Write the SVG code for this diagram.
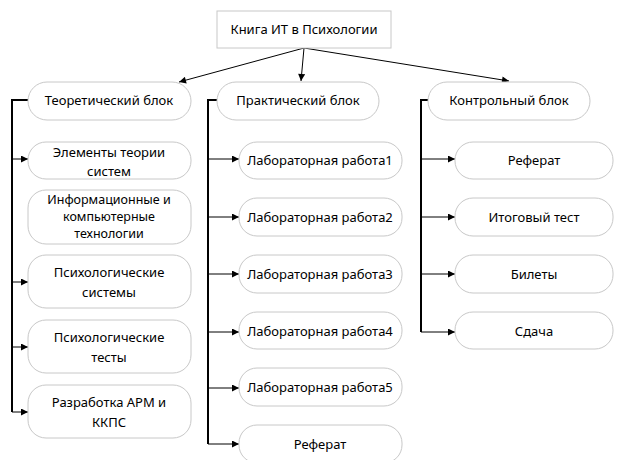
<svg xmlns="http://www.w3.org/2000/svg" width="617" height="460" viewBox="0 0 617 460">
<style>
.box{fill:#fff;stroke:#c8c8c8;stroke-width:1}
.t{font-family:"Noto Sans","Liberation Sans",sans-serif;font-size:13px;fill:#000;text-anchor:middle}
.s{font-size:12.5px}
.trunk{fill:none;stroke:#000;stroke-width:2}
.arr{fill:none;stroke:#000;stroke-width:1;marker-end:url(#ah)}
</style>
<defs>
<marker id="ah" viewBox="0 0 10 10" refX="10" refY="5" markerWidth="8" markerHeight="7" markerUnits="userSpaceOnUse" orient="auto">
<path d="M0,0 L10,5 L0,10 Z" fill="#000"/>
</marker>
</defs>
<g id="connectors">
<line class="arr" x1="304" y1="48" x2="179" y2="82"/>
<line class="arr" x1="304" y1="48" x2="301" y2="81"/>
<line class="arr" x1="304" y1="48" x2="509" y2="81"/>
<path class="trunk" d="M28,100 H12 V412"/>
<line class="arr" x1="12" y1="159" x2="28" y2="159"/>
<line class="arr" x1="12" y1="282" x2="28" y2="282"/>
<line class="arr" x1="12" y1="347" x2="28" y2="347"/>
<line class="arr" x1="12" y1="412" x2="28" y2="412"/>
<path class="trunk" d="M217,100 H208 V444"/>
<line class="arr" x1="208" y1="159" x2="239" y2="159"/>
<line class="arr" x1="208" y1="217" x2="239" y2="217"/>
<line class="arr" x1="208" y1="274" x2="239" y2="274"/>
<line class="arr" x1="208" y1="332" x2="239" y2="332"/>
<line class="arr" x1="208" y1="388" x2="239" y2="388"/>
<line class="arr" x1="208" y1="444" x2="239" y2="444"/>
<path class="trunk" d="M428,100 H421 V332"/>
<line class="arr" x1="421" y1="159" x2="455" y2="159"/>
<line class="arr" x1="421" y1="217" x2="455" y2="217"/>
<line class="arr" x1="421" y1="274" x2="455" y2="274"/>
<line class="arr" x1="421" y1="332" x2="455" y2="332"/>
</g>
<g id="root"><rect class="box" x="217" y="11" width="174" height="37"/><text class="t" x="304" y="34">Книга ИТ в Психологии</text></g>
<g id="theory"><rect class="box" x="28" y="82" width="163" height="38" rx="19"/><text class="t" x="109" y="105">Теоретический блок</text></g>
<g id="practice"><rect class="box" x="217" y="82" width="162" height="38" rx="19"/><text class="t" x="298" y="105">Практический блок</text></g>
<g id="control"><rect class="box" x="428" y="82" width="162" height="38" rx="19"/><text class="t" x="509" y="105">Контрольный блок</text></g>
<g id="t1"><rect class="box" x="28" y="142" width="163" height="37" rx="18"/><text class="t" x="109" y="157">Элементы теории</text><text class="t" x="109" y="176">систем</text></g>
<g id="t2"><rect class="box" x="28" y="190" width="163" height="54" rx="18"/><text class="t s" x="109" y="204">Информационные и</text><text class="t s" x="109" y="221">компьютерные</text><text class="t s" x="109" y="238">технологии</text></g>
<g id="t3"><rect class="box" x="28" y="255" width="163" height="53" rx="18"/><text class="t" x="109" y="277">Психологические</text><text class="t" x="109" y="297">системы</text></g>
<g id="t4"><rect class="box" x="28" y="320" width="163" height="53" rx="18"/><text class="t" x="109" y="342">Психологические</text><text class="t" x="109" y="362">тесты</text></g>
<g id="t5"><rect class="box" x="28" y="385" width="163" height="53" rx="18"/><text class="t" x="109" y="407">Разработка АРМ и</text><text class="t" x="109" y="427">ККПС</text></g>
<g id="p1"><rect class="box" x="239" y="142" width="163" height="37" rx="18"/><text class="t" x="320" y="165">Лабораторная работа1</text></g>
<g id="p2"><rect class="box" x="239" y="198" width="163" height="38" rx="18"/><text class="t" x="320" y="222">Лабораторная работа2</text></g>
<g id="p3"><rect class="box" x="239" y="255" width="163" height="38" rx="18"/><text class="t" x="320" y="279">Лабораторная работа3</text></g>
<g id="p4"><rect class="box" x="239" y="312" width="163" height="37" rx="18"/><text class="t" x="320" y="336">Лабораторная работа4</text></g>
<g id="p5"><rect class="box" x="239" y="368" width="163" height="38" rx="18"/><text class="t" x="320" y="392">Лабораторная работа5</text></g>
<g id="p6"><rect class="box" x="239" y="425" width="163" height="38" rx="18"/><text class="t" x="320" y="449">Реферат</text></g>
<g id="c1"><rect class="box" x="455" y="142" width="158" height="37" rx="18"/><text class="t" x="534" y="165">Реферат</text></g>
<g id="c2"><rect class="box" x="455" y="198" width="158" height="38" rx="18"/><text class="t" x="534" y="222">Итоговый тест</text></g>
<g id="c3"><rect class="box" x="455" y="255" width="158" height="38" rx="18"/><text class="t" x="534" y="279">Билеты</text></g>
<g id="c4"><rect class="box" x="455" y="312" width="158" height="37" rx="18"/><text class="t" x="534" y="336">Сдача</text></g>
</svg>
